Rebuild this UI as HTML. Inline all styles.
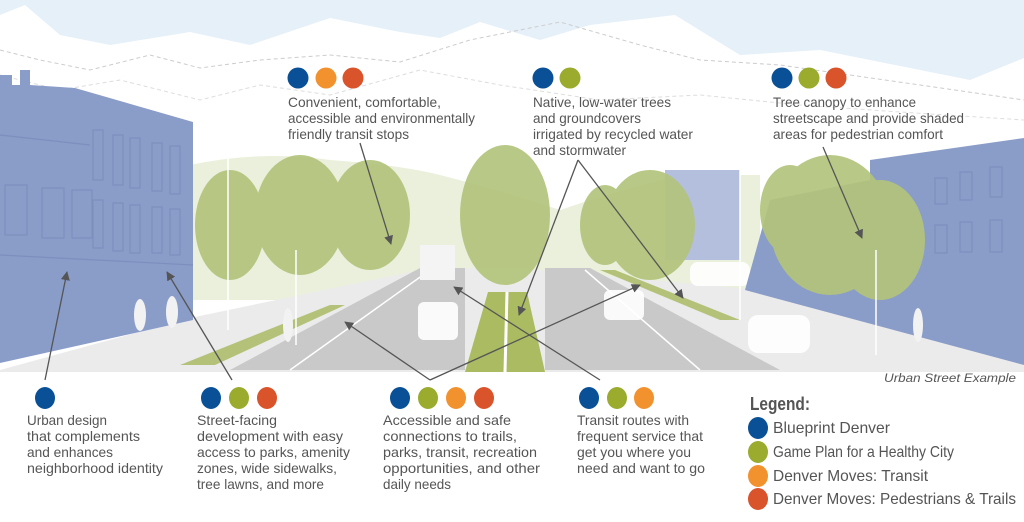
<!DOCTYPE html>
<html><head><meta charset="utf-8"><style>
html,body{margin:0;padding:0;background:#fff;}
svg{display:block;}
text{font-family:"Liberation Sans",sans-serif;fill:#555;}
</style></head><body>
<svg width="1024" height="522" viewBox="0 0 1024 522" xmlns="http://www.w3.org/2000/svg">
<defs>
<marker id="ah" viewBox="0 0 10 10" refX="9" refY="5" markerWidth="7" markerHeight="7" orient="auto"><path d="M0,0 L10,5 L0,10 z" fill="#555"/></marker>
</defs>
<rect x="0" y="0" width="1024" height="380" fill="#e6f0f9"/>
<path d="M0,15 L25,5 L60,35 L110,45 L190,32 L250,45 L330,18 L400,32 L440,38 L480,22 L540,40 L590,25 L675,15 L740,55 L820,50 L860,58 L920,70 L970,80 L1024,58 L1024,380 L0,380 Z" fill="#fff"/>
<path d="M0,50 L40,60 L90,70 L150,55 L200,68 L260,60 L330,55 L400,62 L470,40 L560,22 L640,45 L700,60 L780,65 L850,75 L920,85 L1024,100" fill="none" stroke="#ccc" stroke-dasharray="4,3" stroke-width="1"/>
<path d="M0,75 L60,90 L120,80 L200,100 L260,85 L330,95 L420,70 L500,85 L600,100 L700,95 L800,105 L900,112 L1024,120" fill="none" stroke="#ddd" stroke-dasharray="4,3" stroke-width="1"/>
<path d="M190,165 Q260,150 330,160 Q400,165 440,175 Q500,190 560,210 Q620,190 680,175 L760,175 L760,300 L190,300 Z" fill="#eaf0dc"/>
<path d="M0,370 L190,318 L430,268 L520,268 L760,290 L1024,360 L1024,372 L0,372 Z" fill="#ebebeb"/>
<path d="M180,365 L330,305 L345,305 L215,365 Z" fill="#b3c278"/>
<path d="M600,270 L720,320 L740,320 L615,270 Z" fill="#b3c278"/>
<path d="M230,370 L420,268 L465,268 L465,370 Z" fill="#c9c9c9"/>
<path d="M545,370 L545,268 L590,268 L780,370 Z" fill="#c9c9c9"/>
<path d="M290,370 L430,270" stroke="#fff" stroke-width="1.5"/>
<path d="M700,370 L585,270" stroke="#fff" stroke-width="1.5"/>
<path d="M465,372 L488,292 L527,292 L545,372 Z" fill="#aabb62"/>
<path d="M505,372 L507,292" stroke="#fff" stroke-width="3"/>
<rect x="418" y="302" width="40" height="38" rx="6" fill="#fff" opacity="0.9"/>
<rect x="604" y="290" width="40" height="30" rx="6" fill="#fff" opacity="0.9"/>
<rect x="420" y="245" width="35" height="35" fill="#f4f4f4"/>
<rect x="748" y="315" width="62" height="38" rx="10" fill="#fff" opacity="0.9"/>
<rect x="690" y="262" width="60" height="24" rx="8" fill="#fff" opacity="0.9"/>
<path d="M0,75 L12,75 L12,85 L20,85 L20,70 L30,70 L30,85 L75,88 L193,122 L193,320 L0,363 Z" fill="#8a9cc8"/>
<g stroke="#7d8fbd" fill="none" stroke-width="1.2">
<rect x="93" y="130" width="10" height="50"/><rect x="113" y="135" width="10" height="50"/><rect x="130" y="138" width="10" height="50"/><rect x="152" y="143" width="10" height="48"/><rect x="170" y="146" width="10" height="48"/>
<rect x="93" y="200" width="10" height="48"/><rect x="113" y="203" width="10" height="48"/><rect x="130" y="205" width="10" height="48"/><rect x="152" y="207" width="10" height="46"/><rect x="170" y="209" width="10" height="46"/>
<rect x="5" y="185" width="22" height="50"/><rect x="42" y="188" width="22" height="50"/><rect x="72" y="190" width="20" height="48"/>
<path d="M0,255 L193,265"/><path d="M0,135 L90,145"/>
</g>
<path d="M665,170 L740,170 L740,260 L665,260 Z" fill="#b3bfdc"/>
<path d="M870,160 L1024,138 L1024,365 L745,290 L770,200 L870,180 Z" fill="#8a9cc8"/>
<g stroke="#7d8fbd" fill="none" stroke-width="1.2">
<rect x="935" y="178" width="12" height="26"/><rect x="960" y="172" width="12" height="28"/><rect x="990" y="167" width="12" height="30"/>
<rect x="935" y="225" width="12" height="28"/><rect x="960" y="222" width="12" height="30"/><rect x="990" y="220" width="12" height="32"/>
</g>
<g fill="#b3c47c" opacity="0.92">
<ellipse cx="230" cy="225" rx="35" ry="55"/>
<ellipse cx="300" cy="215" rx="45" ry="60"/>
<ellipse cx="370" cy="215" rx="40" ry="55"/>
<ellipse cx="505" cy="215" rx="45" ry="70"/>
<ellipse cx="650" cy="225" rx="45" ry="55"/>
<ellipse cx="605" cy="225" rx="25" ry="40"/>
<ellipse cx="830" cy="225" rx="60" ry="70"/>
<ellipse cx="880" cy="240" rx="45" ry="60"/>
<ellipse cx="790" cy="210" rx="30" ry="45"/>
</g>
<g stroke="#fff" stroke-width="1.5">
<line x1="228" y1="150" x2="228" y2="330"/><line x1="740" y1="160" x2="740" y2="320"/>
<line x1="296" y1="250" x2="296" y2="345"/><line x1="876" y1="250" x2="876" y2="355"/>
</g>
<g fill="#f2f2f2"><ellipse cx="140" cy="315" rx="6" ry="16"/><ellipse cx="172" cy="312" rx="6" ry="16"/><ellipse cx="918" cy="325" rx="5" ry="17"/><ellipse cx="288" cy="325" rx="5" ry="17"/></g>
<rect x="0" y="372" width="1024" height="150" fill="#fff"/>
<g stroke="#555" stroke-width="1.3" fill="none" marker-end="url(#ah)">
<line x1="360" y1="143" x2="391" y2="244"/>
<line x1="578" y1="160" x2="519" y2="315"/>
<line x1="578" y1="160" x2="683" y2="298"/>
<line x1="823" y1="147" x2="862" y2="238"/>
<line x1="45" y1="380" x2="67" y2="272"/>
<line x1="232" y1="380" x2="167" y2="272"/>
<line x1="430" y1="380" x2="345" y2="322"/>
<line x1="430" y1="380" x2="640" y2="285"/>
<line x1="600" y1="380" x2="454" y2="287"/>
</g>
<g>
<circle cx="298" cy="78" r="10.5" fill="#0a5096"/><circle cx="326" cy="78" r="10.5" fill="#f2922f"/><circle cx="353" cy="78" r="10.5" fill="#d9532b"/>
<circle cx="543" cy="78" r="10.5" fill="#0a5096"/><circle cx="570" cy="78" r="10.5" fill="#9aab2e"/>
<circle cx="782" cy="78" r="10.5" fill="#0a5096"/><circle cx="809" cy="78" r="10.5" fill="#9aab2e"/><circle cx="836" cy="78" r="10.5" fill="#d9532b"/>
</g>
<g font-size="14" lengthAdjust="spacingAndGlyphs">
<text x="288" y="107" textLength="153" lengthAdjust="spacingAndGlyphs">Convenient, comfortable,</text>
<text x="288" y="123" textLength="187" lengthAdjust="spacingAndGlyphs">accessible and environmentally</text>
<text x="288" y="139" textLength="121" lengthAdjust="spacingAndGlyphs">friendly transit stops</text>
<text x="533" y="107" textLength="138" lengthAdjust="spacingAndGlyphs">Native, low-water trees</text>
<text x="533" y="123" textLength="108" lengthAdjust="spacingAndGlyphs">and groundcovers</text>
<text x="533" y="139" textLength="160" lengthAdjust="spacingAndGlyphs">irrigated by recycled water</text>
<text x="533" y="155" textLength="93" lengthAdjust="spacingAndGlyphs">and stormwater</text>
<text x="773" y="107" textLength="143" lengthAdjust="spacingAndGlyphs">Tree canopy to enhance</text>
<text x="773" y="123" textLength="191" lengthAdjust="spacingAndGlyphs">streetscape and provide shaded</text>
<text x="773" y="139" textLength="170" lengthAdjust="spacingAndGlyphs">areas for pedestrian comfort</text>
</g>
<text x="1016" y="382" font-size="11.5" font-style="italic" text-anchor="end" textLength="132" lengthAdjust="spacingAndGlyphs">Urban Street Example</text>
<g>
<ellipse cx="45" cy="398" rx="10" ry="11" fill="#0a5096"/>
<ellipse cx="211" cy="398" rx="10" ry="11" fill="#0a5096"/><ellipse cx="239" cy="398" rx="10" ry="11" fill="#9aab2e"/><ellipse cx="267" cy="398" rx="10" ry="11" fill="#d9532b"/>
<ellipse cx="400" cy="398" rx="10" ry="11" fill="#0a5096"/><ellipse cx="428" cy="398" rx="10" ry="11" fill="#9aab2e"/><ellipse cx="456" cy="398" rx="10" ry="11" fill="#f2922f"/><ellipse cx="484" cy="398" rx="10" ry="11" fill="#d9532b"/>
<ellipse cx="589" cy="398" rx="10" ry="11" fill="#0a5096"/><ellipse cx="617" cy="398" rx="10" ry="11" fill="#9aab2e"/><ellipse cx="644" cy="398" rx="10" ry="11" fill="#f2922f"/>
</g>
<g font-size="14">
<text x="27" y="425" textLength="80" lengthAdjust="spacingAndGlyphs">Urban design</text>
<text x="27" y="441" textLength="113" lengthAdjust="spacingAndGlyphs">that complements</text>
<text x="27" y="457" textLength="86" lengthAdjust="spacingAndGlyphs">and enhances</text>
<text x="27" y="473" textLength="136" lengthAdjust="spacingAndGlyphs">neighborhood identity</text>
<text x="197" y="425" textLength="80" lengthAdjust="spacingAndGlyphs">Street-facing</text>
<text x="197" y="441" textLength="146" lengthAdjust="spacingAndGlyphs">development with easy</text>
<text x="197" y="457" textLength="153" lengthAdjust="spacingAndGlyphs">access to parks, amenity</text>
<text x="197" y="473" textLength="140" lengthAdjust="spacingAndGlyphs">zones, wide sidewalks,</text>
<text x="197" y="489" textLength="127" lengthAdjust="spacingAndGlyphs">tree lawns, and more</text>
<text x="383" y="425" textLength="128" lengthAdjust="spacingAndGlyphs">Accessible and safe</text>
<text x="383" y="441" textLength="134" lengthAdjust="spacingAndGlyphs">connections to trails,</text>
<text x="383" y="457" textLength="154" lengthAdjust="spacingAndGlyphs">parks, transit, recreation</text>
<text x="383" y="473" textLength="157" lengthAdjust="spacingAndGlyphs">opportunities, and other</text>
<text x="383" y="489" textLength="68" lengthAdjust="spacingAndGlyphs">daily needs</text>
<text x="577" y="425" textLength="112" lengthAdjust="spacingAndGlyphs">Transit routes with</text>
<text x="577" y="441" textLength="126" lengthAdjust="spacingAndGlyphs">frequent service that</text>
<text x="577" y="457" textLength="114" lengthAdjust="spacingAndGlyphs">get you where you</text>
<text x="577" y="473" textLength="128" lengthAdjust="spacingAndGlyphs">need and want to go</text>
</g>
<text x="750" y="410" font-size="18" font-weight="bold" fill="#555" textLength="60" lengthAdjust="spacingAndGlyphs">Legend:</text>
<ellipse cx="758" cy="428" rx="10" ry="11" fill="#0a5096"/>
<ellipse cx="758" cy="452" rx="10" ry="11" fill="#9aab2e"/>
<ellipse cx="758" cy="476" rx="10" ry="11" fill="#f2922f"/>
<ellipse cx="758" cy="499" rx="10" ry="11" fill="#d9532b"/>
<g font-size="16">
<text x="773" y="433" textLength="117" lengthAdjust="spacingAndGlyphs">Blueprint Denver</text>
<text x="773" y="457" textLength="181" lengthAdjust="spacingAndGlyphs">Game Plan for a Healthy City</text>
<text x="773" y="481" textLength="155" lengthAdjust="spacingAndGlyphs">Denver Moves: Transit</text>
<text x="773" y="504" textLength="243" lengthAdjust="spacingAndGlyphs">Denver Moves: Pedestrians &amp; Trails</text>
</g>
</svg>
</body></html>
